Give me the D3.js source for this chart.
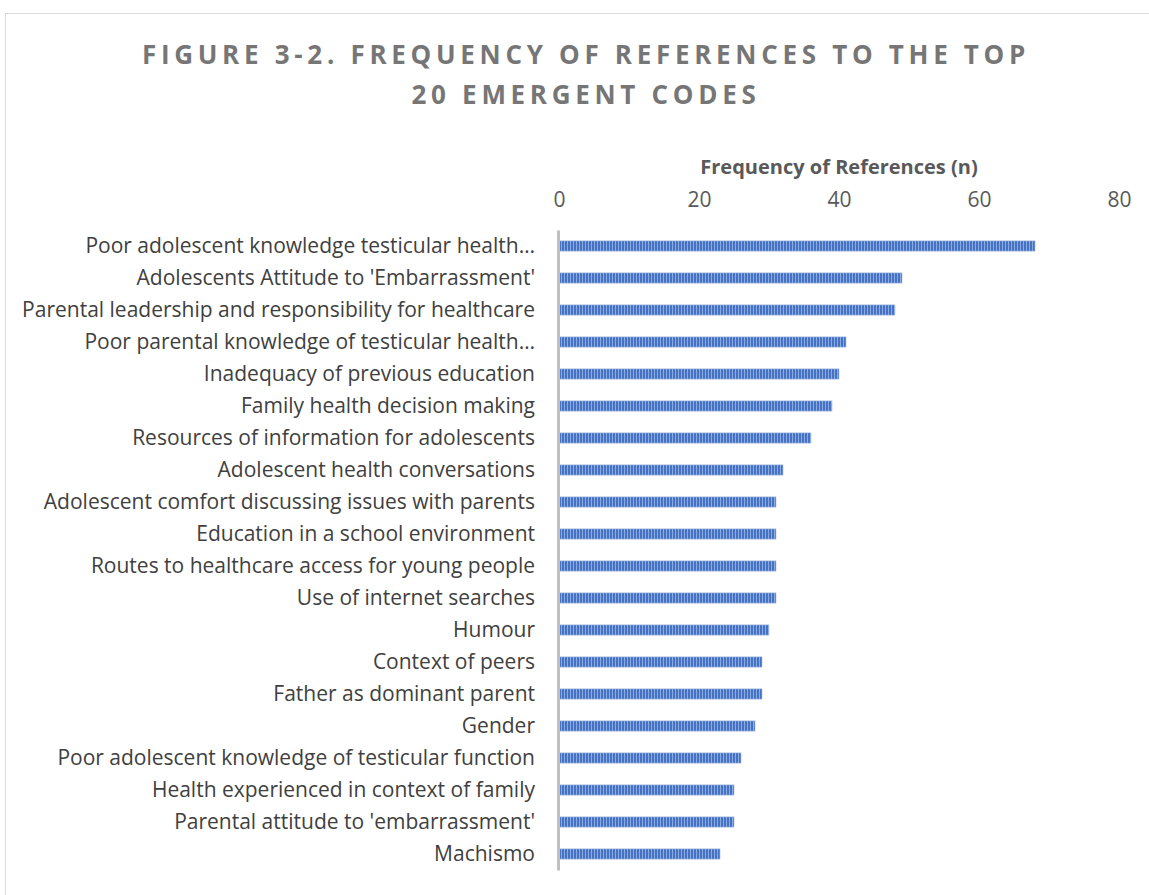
<!DOCTYPE html>
<html>
<head>
<meta charset="utf-8">
<script src="https://cdn.jsdelivr.net/npm/d3@7"></script>
<style>
  body { margin: 0; background: #fff; }
  svg { display: block; }
</style>
</head>
<body>
<svg id="chart"></svg>
<script>
const categories = [
  "Poor adolescent knowledge testicular health…",
  "Adolescents Attitude to 'Embarrassment'",
  "Parental leadership and responsibility for healthcare",
  "Poor parental knowledge of testicular health…",
  "Inadequacy of previous education",
  "Family health decision making",
  "Resources of information for adolescents",
  "Adolescent health conversations",
  "Adolescent comfort discussing issues with parents",
  "Education in a school environment",
  "Routes to healthcare access for young people",
  "Use of internet searches",
  "Humour",
  "Context of peers",
  "Father as dominant parent",
  "Gender",
  "Poor adolescent knowledge of testicular function",
  "Health experienced in context of family",
  "Parental attitude to 'embarrassment'",
  "Machismo"
];
const references = [68, 49, 48, 41, 40, 39, 36, 32, 31, 31, 31, 31, 30, 29, 29, 28, 26, 25, 25, 23];
const xTicks = [0, 20, 40, 60, 80];
const titleLines = ["FIGURE 3-2. FREQUENCY OF REFERENCES TO THE TOP", "20 EMERGENT CODES"];
const axisTitle = "Frequency of References (n)";

const width = 1149, height = 895;
const margin = {top: 230, left: 559};
const font = "'Open Sans', 'Liberation Sans', sans-serif";

const svg = d3.select("#chart").attr("width", width).attr("height", height);

// outer frame
svg.append("rect")
  .attr("x", 5.5).attr("y", 13.5)
  .attr("width", width + 10).attr("height", height + 10)
  .attr("fill", "#fff").attr("stroke", "#d9d9d9").attr("stroke-width", 1);

// striped fill for the bars
const defs = svg.append("defs");
const pat = defs.append("pattern")
  .attr("id", "stripes")
  .attr("patternUnits", "userSpaceOnUse")
  .attr("width", 3).attr("height", 10);
pat.append("rect").attr("width", 3).attr("height", 10).attr("fill", "#8eaadb");
pat.append("rect").attr("width", 2).attr("height", 10).attr("fill", "#4472c4");

// title
svg.append("g").selectAll("text")
  .data(titleLines)
  .join("text")
  .attr("x", 586)
  .attr("y", (d, i) => 64 + i * 40)
  .attr("text-anchor", "middle")
  .attr("font-family", font)
  .attr("font-size", "26px")
  .attr("font-weight", "bold")
  .attr("letter-spacing", "4.7px")
  .attr("fill", "#767676")
  .text(d => d);

const x = d3.scaleLinear().domain([0, 80]).range([0, 560]);
const y = d3.scaleBand().domain(categories).range([0, 640]).paddingInner(0.68).paddingOuter(0.34);

const chart = svg.append("g").attr("transform", `translate(${margin.left},${margin.top})`);

// top axis (labels only)
const xAxis = d3.axisTop(x).tickValues(xTicks).tickSize(0).tickPadding(10);
const xg = chart.append("g").attr("transform", "translate(0,-13)").call(xAxis);
xg.select(".domain").remove();
xg.selectAll("text")
  .attr("font-family", font)
  .attr("font-size", "21px")
  .attr("fill", "#595959");

chart.append("text")
  .attr("x", x(40))
  .attr("y", -56)
  .attr("text-anchor", "middle")
  .attr("font-family", font)
  .attr("font-size", "20px")
  .attr("font-weight", "bold")
  .attr("fill", "#595959")
  .text(axisTitle);

// bars
chart.selectAll("rect.bar")
  .data(references)
  .join("rect")
  .attr("class", "bar")
  .attr("x", x(0))
  .attr("y", (d, i) => y(categories[i]))
  .attr("width", d => x(d) - x(0))
  .attr("height", y.bandwidth())
  .attr("fill", "url(#stripes)")
  .attr("stroke", "#a9bfe6")
  .attr("stroke-width", 0.6);

// left axis
const yAxis = d3.axisLeft(y).tickSize(0).tickPadding(23);
const yg = chart.append("g").attr("transform", "translate(-1,0)").call(yAxis);
yg.select(".domain")
  .attr("stroke", "#bfbfbf")
  .attr("stroke-width", 3);
yg.selectAll("text")
  .attr("font-family", font)
  .attr("font-size", "21px")
  .attr("fill", "#404040");
</script>
</body>
</html>
